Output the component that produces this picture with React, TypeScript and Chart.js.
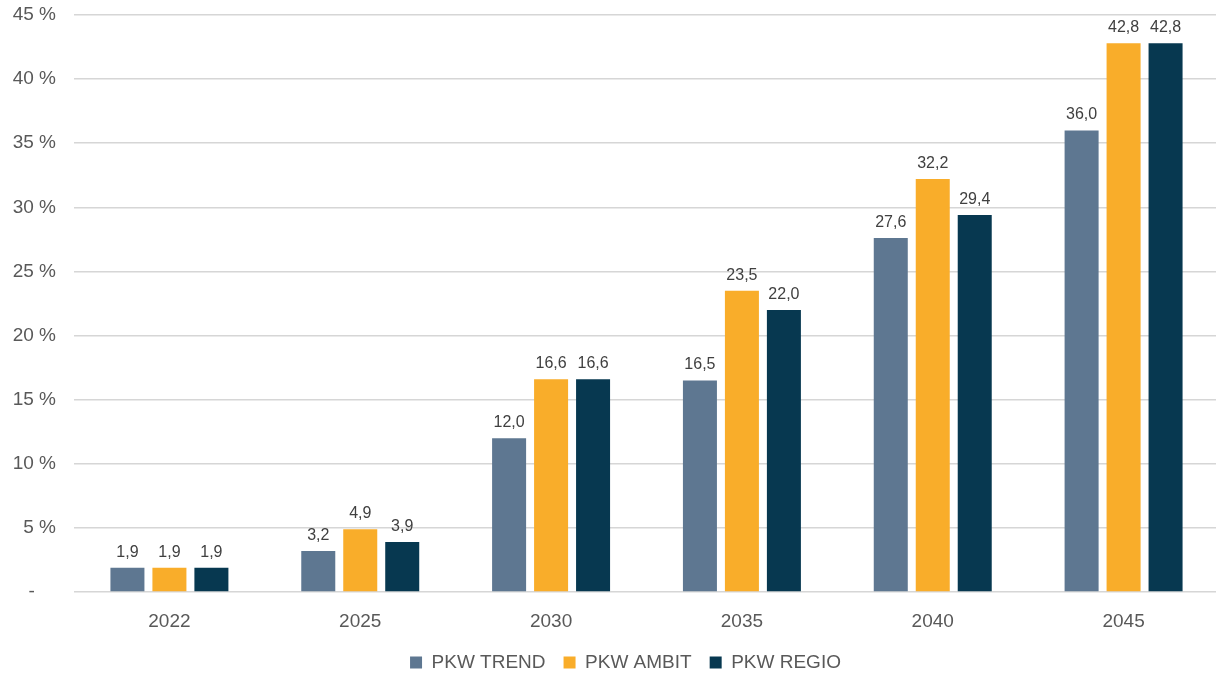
import React, { useEffect, useRef } from "react";
import { Chart, registerables } from "chart.js";

Chart.register(...registerables);

const categories = ["2022", "2025", "2030", "2035", "2040", "2045"];
const seriesNames = ["PKW TREND", "PKW AMBIT", "PKW REGIO"];
const trendValues = [1.9, 3.2, 12.0, 16.5, 27.6, 36.0];
const ambitValues = [1.9, 4.9, 16.6, 23.5, 32.2, 42.8];
const regioValues = [1.9, 3.9, 16.6, 22.0, 29.4, 42.8];
const seriesColors = ["#5e7791", "#f9ad2a", "#073850"];
const yTickMax = 45;
const yTickStep = 5;

const FONT = "'Liberation Sans', Arial, sans-serif";
const TEXT = "#595959";

const dataLabelPlugin = {
  id: "dataLabels",
  afterDatasetsDraw(chart: any) {
    const ctx = chart.ctx;
    ctx.save();
    ctx.font = `16px ${FONT}`;
    ctx.fillStyle = "#404040";
    ctx.textAlign = "center";
    ctx.textBaseline = "alphabetic";
    chart.data.datasets.forEach((ds: any, di: number) => {
      const meta = chart.getDatasetMeta(di);
      meta.data.forEach((el: any, i: number) => {
        const v = ds.data[i] as number;
        const txt = v.toFixed(1).replace(".", ",");
        ctx.fillText(txt, el.x, el.y - 11);
      });
    });
    ctx.restore();
  },
};

export default function App() {
  const ref = useRef<HTMLCanvasElement>(null);
  useEffect(() => {
    if (!ref.current) return;
    const chart = new Chart(ref.current, {
      type: "bar",
      data: {
        labels: categories,
        datasets: [trendValues, ambitValues, regioValues].map((d, i) => ({
          label: seriesNames[i],
          data: d,
          backgroundColor: seriesColors[i],
          borderWidth: 0,
          categoryPercentage: 0.66,
          barPercentage: 0.81,
        })),
      },
      options: {
        animation: false,
        responsive: false,
        devicePixelRatio: 1,
        layout: { autoPadding: false, padding: { left: 0, right: 0, top: 15, bottom: 0 } },
        plugins: {
          tooltip: { enabled: false },
          legend: {
            position: "bottom",
            maxHeight: 40,
            labels: {
              boxWidth: 12,
              boxHeight: 12,
              padding: 18,
              color: TEXT,
              font: { family: FONT, size: 19 },
            },
          },
        },
        scales: {
          x: {
            grid: { display: false, drawTicks: false },
            border: { display: false },
            ticks: { color: TEXT, font: { family: FONT, size: 19 }, padding: 18 },
            afterFit(scale: any) {
              scale.height = 43;
              scale.paddingLeft = 0;
              scale.paddingRight = 0;
            },
          },
          y: {
            min: 0,
            max: yTickMax,
            grid: { color: "#d6d6d6", lineWidth: 1.6, drawTicks: false },
            border: { display: false },
            ticks: {
              stepSize: yTickStep,
              color: TEXT,
              padding: 18,
              font: { family: FONT, size: 19 },
              callback: (v: any) => (Number(v) === 0 ? "-    " : `${v} %`),
            },
            afterFit(scale: any) {
              scale.width = 74;
              scale.paddingTop = 0;
              scale.paddingBottom = 0;
            },
          },
          yRightSpacer: {
            position: "right",
            min: 0,
            max: yTickMax,
            grid: { display: false, drawTicks: false },
            border: { display: false },
            ticks: { display: false },
            afterFit(scale: any) {
              scale.width = 32;
              scale.paddingTop = 0;
              scale.paddingBottom = 0;
            },
          },
        },
      },
      plugins: [dataLabelPlugin],
    } as any);
    return () => chart.destroy();
  }, []);
  return (
    <div
      style={{
        position: "absolute",
        left: 0,
        top: 0,
        width: 1216,
        height: 675,
        overflow: "hidden",
        background: "#fff",
      }}
    >
      <canvas ref={ref} width={1251} height={675} style={{ width: 1251, height: 675, display: "block" }} />
    </div>
  );
}
